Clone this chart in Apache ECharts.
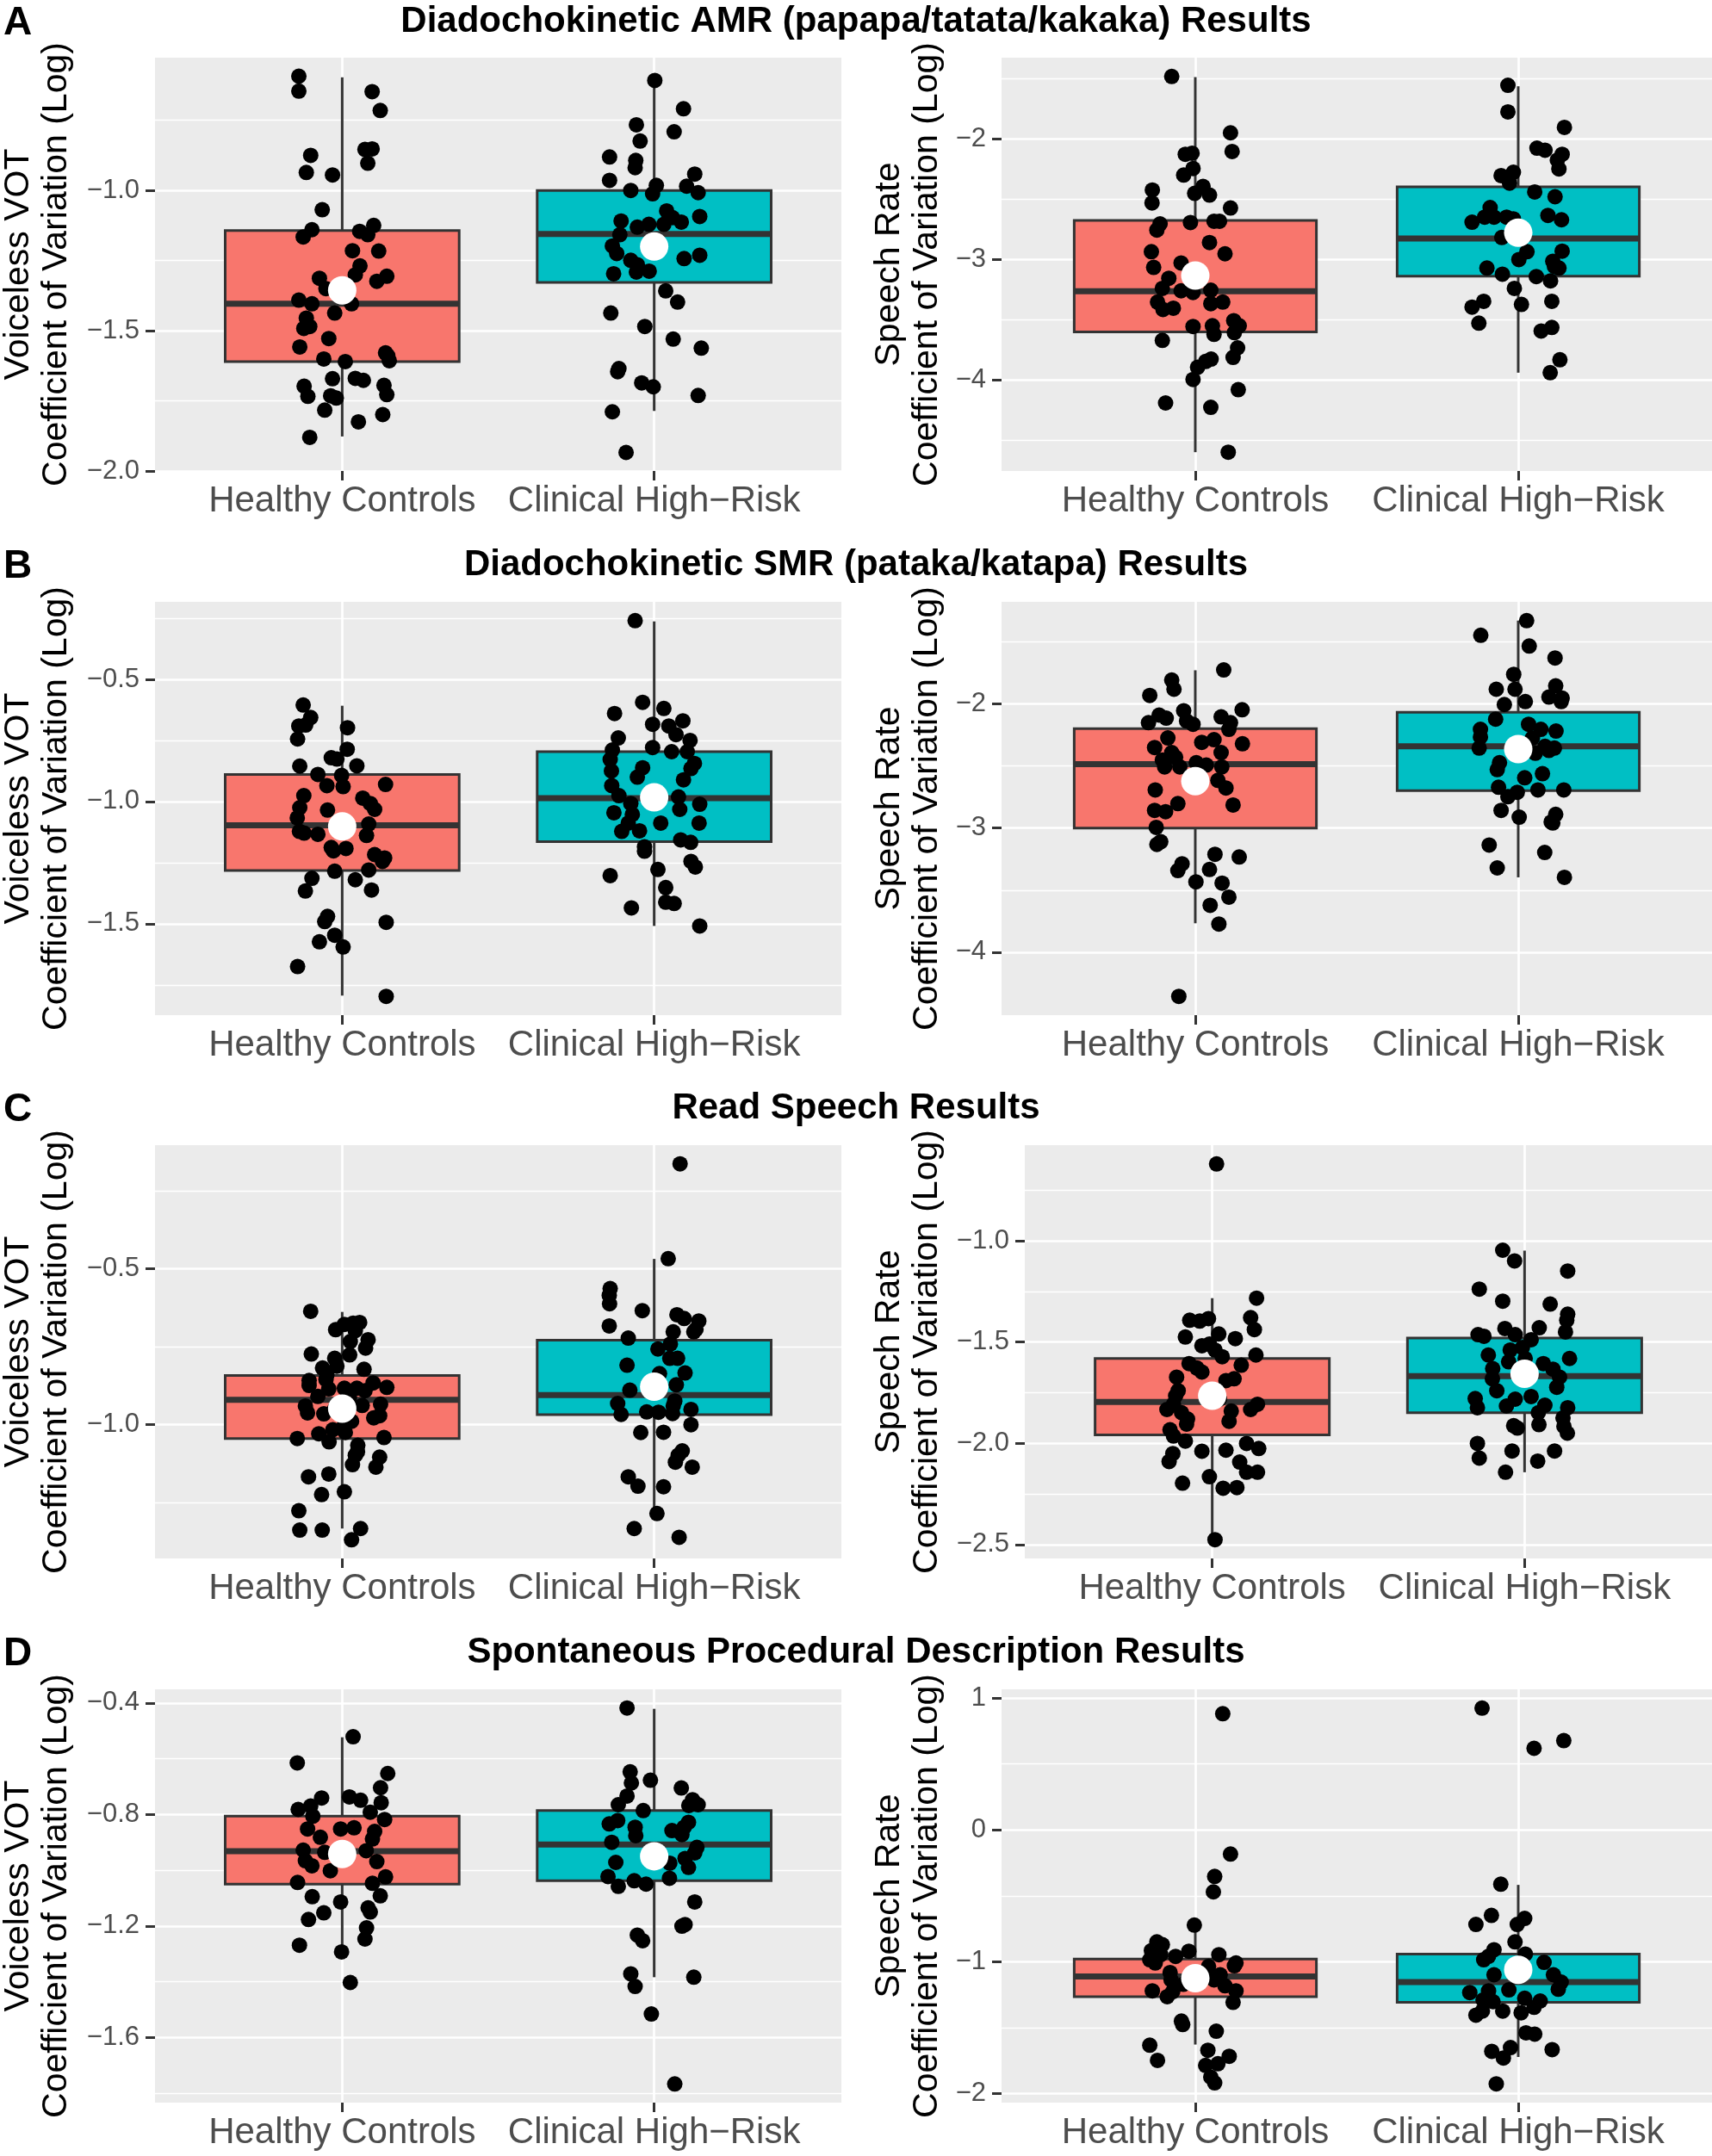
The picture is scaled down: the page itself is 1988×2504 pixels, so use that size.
<!DOCTYPE html>
<html><head><meta charset="utf-8">
<script src="https://cdn.jsdelivr.net/npm/echarts@6/dist/echarts.min.js"></script>
<style>html,body{margin:0;padding:0;background:#fff}#c{width:1988px;height:2504px}</style>
</head><body><div id="c"></div>
<script>
// ---------------- DATA ----------------
const categories = ['Healthy Controls', 'Clinical High\u2212Risk'];
const rowLetters = ['A', 'B', 'C', 'D'];
const rowTitles = [
  'Diadochokinetic AMR (papapa/tatata/kakaka) Results',
  'Diadochokinetic SMR (pataka/katapa) Results',
  'Read Speech Results',
  'Spontaneous Procedural Description Results'
];
const yTitleVot = 'Voiceless VOT\nCoefficient of Variation (Log)';
const yTitleRate = 'Speech Rate\nCoefficient of Variation (Log)';

// A left: AMR Voiceless VOT
const amrVotRange = [-2.0, -0.527];
const amrVotTicks = [-2.0, -1.5, -1.0];
const amrVotMinor = [-1.75, -1.25, -0.75];
const amrVotBoxHC = [-1.877, -1.610, -1.404, -1.143, -0.597];
const amrVotBoxCHR = [-1.786, -1.328, -1.155, -1.000, -0.607];
const amrVotMeans = [-1.356, -1.200];
const amrVotHC = [[0.861,-0.593],[0.861,-0.646],[1.096,-0.648],[1.122,-0.715],[0.899,-0.875],[1.073,-0.854],[1.096,-0.852],[1.082,-0.903],[0.885,-0.936],[0.969,-0.945],[0.936,-1.069],[0.903,-1.140],[0.875,-1.166],[1.056,-1.146],[1.101,-1.125],[1.082,-1.158],[1.033,-1.215],[1.117,-1.216],[1.057,-1.269],[1.042,-1.301],[0.927,-1.313],[0.948,-1.350],[1.143,-1.306],[1.111,-1.324],[0.861,-1.391],[0.903,-1.404],[1.030,-1.404],[0.976,-1.437],[0.885,-1.455],[0.877,-1.492],[0.896,-1.485],[0.957,-1.528],[0.864,-1.558],[0.941,-1.601],[1.010,-1.610],[1.139,-1.579],[1.151,-1.607],[1.146,-1.589],[0.969,-1.671],[1.042,-1.670],[1.068,-1.677],[0.878,-1.698],[0.890,-1.734],[0.963,-1.732],[0.981,-1.740],[1.134,-1.695],[1.143,-1.728],[0.944,-1.783],[1.130,-1.799],[1.052,-1.825],[0.896,-1.880]];
const amrVotCHR = [[2.002,-0.608],[2.094,-0.709],[1.943,-0.766],[2.064,-0.791],[1.955,-0.824],[1.857,-0.881],[1.941,-0.893],[1.939,-0.919],[2.130,-0.942],[1.857,-0.964],[1.925,-1.000],[2.007,-0.982],[1.995,-1.012],[2.104,-0.985],[2.141,-1.008],[2.040,-1.073],[1.894,-1.109],[2.059,-1.097],[2.087,-1.113],[2.146,-1.093],[1.946,-1.131],[1.983,-1.121],[2.031,-1.121],[1.890,-1.158],[1.866,-1.198],[1.880,-1.225],[1.925,-1.249],[1.946,-1.265],[1.984,-1.288],[2.096,-1.243],[2.146,-1.231],[1.870,-1.297],[1.943,-1.291],[2.037,-1.358],[2.075,-1.398],[1.861,-1.437],[1.970,-1.485],[2.061,-1.530],[2.151,-1.562],[1.887,-1.635],[1.883,-1.646],[1.960,-1.686],[1.997,-1.700],[2.141,-1.731],[1.866,-1.789],[1.910,-1.934]];

// A right: AMR Speech Rate
const amrRateRange = [-4.753, -1.326];
const amrRateTicks = [-4, -3, -2];
const amrRateMinor = [-4.5, -3.5, -2.5, -1.5];
const amrRateBoxHC = [-4.597, -3.600, -3.262, -2.676, -1.487];
const amrRateBoxCHR = [-3.938, -3.138, -2.825, -2.397, -1.563];
const amrRateMeans = [-3.132, -2.777];
const amrRateHC = [[0.927,-1.482],[1.109,-1.949],[1.114,-2.104],[0.969,-2.127],[0.990,-2.118],[0.993,-2.245],[0.964,-2.299],[0.867,-2.423],[0.866,-2.530],[1.024,-2.394],[0.998,-2.451],[1.044,-2.465],[1.109,-2.572],[1.058,-2.682],[1.075,-2.682],[0.985,-2.693],[0.891,-2.704],[0.881,-2.755],[1.044,-2.859],[1.092,-2.952],[0.864,-2.935],[0.871,-3.065],[0.956,-3.028],[0.918,-3.155],[0.898,-3.239],[0.993,-3.273],[0.956,-3.259],[1.048,-3.254],[0.883,-3.352],[0.900,-3.414],[0.932,-3.403],[1.048,-3.366],[1.085,-3.352],[0.993,-3.555],[1.053,-3.549],[1.058,-3.620],[1.119,-3.507],[1.136,-3.549],[1.121,-3.606],[0.898,-3.670],[1.131,-3.732],[1.117,-3.811],[1.049,-3.825],[1.032,-3.845],[1.007,-3.893],[0.993,-3.994],[1.133,-4.079],[0.908,-4.189],[1.048,-4.225],[1.102,-4.597]];
const amrRateCHR = [[1.968,-1.555],[1.968,-1.775],[2.143,-1.904],[2.058,-2.076],[2.083,-2.093],[2.136,-2.127],[2.121,-2.175],[2.126,-2.248],[1.985,-2.276],[1.947,-2.304],[1.973,-2.366],[2.051,-2.439],[2.114,-2.479],[1.913,-2.569],[1.896,-2.648],[1.857,-2.690],[1.925,-2.648],[1.964,-2.648],[1.985,-2.662],[2.092,-2.634],[2.134,-2.670],[1.949,-2.817],[2.027,-2.935],[2.136,-2.930],[2.002,-3.000],[1.903,-3.070],[1.951,-3.121],[2.056,-3.141],[2.100,-3.177],[2.112,-3.056],[2.126,-3.070],[2.107,-3.014],[1.988,-3.239],[1.893,-3.346],[1.857,-3.394],[2.010,-3.372],[2.104,-3.346],[1.878,-3.527],[2.071,-3.592],[2.104,-3.563],[2.129,-3.831],[2.099,-3.938]];

// B left: SMR Voiceless VOT
const smrVotRange = [-1.874, -0.183];
const smrVotTicks = [-1.5, -1.0, -0.5];
const smrVotMinor = [-1.75, -1.25, -0.75, -0.25];
const smrVotBoxHC = [-1.794, -1.282, -1.097, -0.889, -0.608];
const smrVotBoxCHR = [-1.509, -1.164, -0.986, -0.796, -0.263];
const smrVotMeans = [-1.102, -0.983];
const smrVotHC = [[0.875,-0.605],[0.899,-0.656],[0.861,-0.691],[0.883,-0.687],[1.017,-0.698],[0.857,-0.744],[1.016,-0.786],[0.965,-0.821],[0.983,-0.826],[0.864,-0.855],[1.047,-0.854],[0.922,-0.889],[0.998,-0.893],[0.951,-0.935],[1.003,-0.939],[1.139,-0.930],[0.877,-0.976],[1.066,-0.986],[0.864,-1.025],[0.953,-1.035],[1.090,-1.008],[1.104,-1.032],[0.856,-1.067],[1.085,-1.092],[0.863,-1.122],[0.878,-1.129],[0.922,-1.134],[1.078,-1.139],[0.965,-1.188],[1.012,-1.192],[0.972,-1.202],[1.104,-1.217],[1.136,-1.231],[1.129,-1.245],[0.976,-1.285],[1.085,-1.280],[0.903,-1.314],[1.042,-1.320],[0.882,-1.366],[1.094,-1.362],[0.953,-1.470],[0.944,-1.491],[0.976,-1.547],[0.927,-1.574],[1.003,-1.595],[1.141,-1.494],[0.857,-1.675],[1.141,-1.797]];
const smrVotCHR = [[1.939,-0.260],[1.963,-0.594],[2.031,-0.619],[1.873,-0.640],[1.995,-0.684],[2.092,-0.670],[2.047,-0.691],[2.070,-0.726],[1.885,-0.740],[2.115,-0.750],[1.866,-0.789],[1.995,-0.779],[2.056,-0.796],[2.106,-0.796],[1.859,-0.828],[2.129,-0.844],[1.863,-0.875],[2.118,-0.865],[1.963,-0.862],[1.946,-0.900],[2.094,-0.911],[1.864,-0.935],[1.887,-0.976],[2.078,-0.981],[1.925,-1.008],[2.146,-1.011],[1.871,-1.046],[1.930,-1.053],[2.082,-1.032],[2.021,-1.088],[2.144,-1.088],[1.917,-1.088],[1.896,-1.122],[1.953,-1.120],[2.085,-1.157],[2.117,-1.167],[1.969,-1.185],[1.969,-1.203],[2.118,-1.245],[2.132,-1.268],[1.859,-1.303],[2.012,-1.278],[2.037,-1.352],[2.037,-1.412],[2.064,-1.417],[1.927,-1.435],[2.146,-1.509]];

// B right: SMR Speech Rate
const smrRateRange = [-4.507, -1.178];
const smrRateTicks = [-4, -3, -2];
const smrRateMinor = [-3.5, -2.5, -1.5];
const smrRateBoxHC = [-3.767, -3.000, -2.485, -2.200, -1.729];
const smrRateBoxCHR = [-3.397, -2.699, -2.342, -2.068, -1.329];
const smrRateMeans = [-2.622, -2.364];
const smrRateHC = [[1.088,-1.726],[0.927,-1.808],[0.934,-1.882],[0.859,-1.932],[0.964,-2.055],[1.145,-2.047],[0.888,-2.090],[0.910,-2.115],[1.080,-2.104],[0.855,-2.151],[0.973,-2.137],[0.993,-2.164],[1.109,-2.151],[1.104,-2.205],[0.915,-2.274],[1.020,-2.310],[1.058,-2.288],[0.874,-2.351],[1.146,-2.321],[1.080,-2.392],[0.927,-2.392],[0.898,-2.452],[0.939,-2.430],[1.003,-2.474],[1.034,-2.493],[0.905,-2.507],[0.952,-2.507],[1.082,-2.507],[1.070,-2.616],[1.095,-2.677],[0.876,-2.693],[0.946,-2.803],[1.117,-2.814],[0.874,-2.858],[0.908,-2.868],[0.879,-2.995],[0.893,-3.110],[0.881,-3.132],[1.061,-3.211],[1.136,-3.233],[0.959,-3.288],[0.946,-3.342],[1.044,-3.334],[1.002,-3.433],[1.083,-3.444],[1.104,-3.556],[1.046,-3.622],[1.073,-3.773],[0.949,-4.356]];
const smrRateCHR = [[2.026,-1.329],[1.884,-1.447],[2.034,-1.534],[2.114,-1.630],[1.986,-1.762],[1.932,-1.882],[1.990,-1.882],[2.116,-1.855],[2.095,-1.945],[2.136,-1.953],[2.022,-1.981],[1.957,-2.005],[2.133,-1.981],[1.930,-2.123],[2.032,-2.164],[1.883,-2.205],[2.070,-2.205],[2.117,-2.219],[1.883,-2.266],[2.044,-2.274],[1.879,-2.356],[2.083,-2.342],[2.112,-2.356],[2.053,-2.397],[2.095,-2.375],[1.942,-2.474],[1.935,-2.529],[2.075,-2.562],[2.020,-2.595],[1.939,-2.671],[1.997,-2.712],[2.061,-2.693],[2.141,-2.693],[1.968,-2.748],[1.947,-2.858],[2.003,-2.912],[2.116,-2.890],[2.102,-2.951],[2.107,-2.959],[1.910,-3.137],[2.082,-3.197],[1.935,-3.321],[2.143,-3.397]];

// C left: Read Speech Voiceless VOT
const readVotRange = [-1.429, -0.103];
const readVotTicks = [-1.0, -0.5];
const readVotMinor = [-1.25, -0.75, -0.25];
const readVotBoxHC = [-1.333, -1.044, -0.920, -0.842, -0.638];
const readVotBoxCHR = [-1.287, -0.968, -0.905, -0.729, -0.468];
const readVotMeans = [-0.948, -0.878];
const readVotHC = [[0.899,-0.636],[0.979,-0.695],[1.007,-0.678],[1.035,-0.674],[1.056,-0.672],[1.042,-0.698],[1.026,-0.733],[1.083,-0.727],[1.075,-0.754],[0.901,-0.773],[1.024,-0.776],[0.976,-0.787],[1.070,-0.822],[0.937,-0.818],[0.983,-0.812],[0.951,-0.840],[0.894,-0.858],[0.948,-0.855],[1.099,-0.866],[1.143,-0.880],[0.894,-0.874],[0.957,-0.885],[1.007,-0.883],[1.047,-0.883],[1.073,-0.891],[0.922,-0.909],[0.882,-0.940],[1.123,-0.934],[0.976,-0.949],[0.889,-0.962],[0.941,-0.965],[1.023,-0.913],[1.064,-0.938],[1.120,-0.971],[1.101,-0.978],[1.030,-0.989],[1.005,-1.005],[0.970,-1.016],[1.010,-1.025],[0.856,-1.044],[0.925,-1.029],[0.958,-1.055],[1.134,-1.041],[1.050,-1.066],[1.049,-1.087],[1.120,-1.104],[1.042,-1.098],[1.033,-1.128],[1.108,-1.136],[0.892,-1.167],[0.957,-1.158],[1.007,-1.215],[0.934,-1.224],[0.861,-1.276],[0.864,-1.338],[0.936,-1.338],[1.059,-1.333],[1.030,-1.369]];
const readVotCHR = [[2.083,-0.163],[2.045,-0.467],[1.859,-0.563],[1.856,-0.585],[1.857,-0.612],[1.962,-0.634],[2.073,-0.647],[2.096,-0.659],[2.143,-0.667],[1.856,-0.683],[2.134,-0.694],[2.127,-0.702],[2.061,-0.702],[1.917,-0.722],[2.052,-0.741],[2.012,-0.757],[2.050,-0.787],[2.075,-0.787],[1.913,-0.809],[2.099,-0.834],[2.017,-0.836],[2.071,-0.872],[1.922,-0.889],[1.993,-0.891],[1.883,-0.932],[2.066,-0.924],[1.894,-0.967],[1.976,-0.959],[2.014,-0.960],[2.059,-0.964],[2.118,-0.951],[2.061,-0.940],[2.118,-1.000],[1.957,-1.025],[2.030,-1.024],[2.090,-1.084],[2.077,-1.098],[2.068,-1.120],[2.122,-1.136],[1.917,-1.167],[1.948,-1.197],[2.030,-1.199],[2.009,-1.285],[1.936,-1.333],[2.080,-1.361]];

// C right: Read Speech Rate
const readRateRange = [-2.569, -0.527];
const readRateTicks = [-2.5, -2.0, -1.5, -1.0];
const readRateMinor = [-2.25, -1.75, -1.25, -0.75];
const readRateBoxHC = [-2.476, -1.959, -1.796, -1.581, -1.283];
const readRateBoxCHR = [-2.143, -1.849, -1.668, -1.480, -1.048];
const readRateMeans = [-1.765, -1.656];
const readRateHC = [[1.014,-0.620],[1.142,-1.283],[1.123,-1.379],[1.135,-1.438],[0.928,-1.392],[0.960,-1.396],[0.988,-1.384],[0.914,-1.475],[1.021,-1.460],[1.074,-1.483],[0.991,-1.510],[0.967,-1.518],[1.009,-1.539],[1.140,-1.564],[1.032,-1.572],[0.926,-1.606],[1.093,-1.614],[0.951,-1.628],[0.967,-1.648],[0.886,-1.673],[1.070,-1.681],[1.044,-1.690],[0.891,-1.740],[0.883,-1.765],[1.023,-1.782],[0.876,-1.807],[1.145,-1.807],[1.123,-1.833],[1.061,-1.841],[0.855,-1.833],[0.902,-1.849],[0.921,-1.880],[1.054,-1.891],[0.918,-1.905],[0.865,-1.933],[0.876,-1.964],[0.914,-1.989],[1.110,-2.001],[1.149,-2.026],[0.967,-2.039],[1.044,-2.034],[0.874,-2.051],[0.862,-2.090],[1.088,-2.093],[1.110,-2.143],[1.145,-2.143],[0.991,-2.165],[0.905,-2.197],[1.035,-2.222],[1.079,-2.219],[1.009,-2.476]];
const readRateCHR = [[1.930,-1.046],[1.968,-1.099],[2.138,-1.149],[1.855,-1.238],[1.930,-1.298],[2.082,-1.312],[2.138,-1.362],[2.135,-1.392],[1.937,-1.433],[2.047,-1.429],[2.131,-1.450],[1.851,-1.463],[1.870,-1.471],[1.970,-1.463],[2.021,-1.488],[1.954,-1.539],[1.993,-1.527],[1.884,-1.564],[2.144,-1.581],[1.949,-1.597],[2.002,-1.581],[1.898,-1.631],[2.091,-1.634],[2.060,-1.606],[2.112,-1.673],[1.897,-1.681],[2.103,-1.723],[1.911,-1.740],[1.842,-1.779],[2.021,-1.769],[1.970,-1.782],[2.065,-1.812],[1.849,-1.824],[1.942,-1.816],[2.138,-1.824],[2.044,-1.849],[2.123,-1.875],[1.965,-1.913],[1.977,-1.925],[2.046,-1.908],[2.126,-1.917],[2.137,-1.950],[1.849,-2.001],[1.855,-2.073],[1.960,-2.038],[2.096,-2.038],[2.042,-2.088],[1.939,-2.143]];

// D left: Spontaneous Voiceless VOT
const spVotRange = [-1.834, -0.351];
const spVotTicks = [-1.6, -1.2, -0.8, -0.4];
const spVotMinor = [-1.8, -1.4, -1.0, -0.6];
const spVotBoxHC = [-1.297, -1.050, -0.932, -0.806, -0.523];
const spVotBoxCHR = [-1.384, -1.038, -0.908, -0.786, -0.421];
const spVotMeans = [-0.942, -0.950];
const spVotHC = [[1.035,-0.521],[0.856,-0.615],[1.146,-0.653],[1.123,-0.704],[0.934,-0.741],[1.023,-0.737],[1.059,-0.749],[1.125,-0.758],[0.859,-0.782],[0.899,-0.770],[0.906,-0.806],[1.090,-0.792],[1.136,-0.818],[0.889,-0.852],[1.038,-0.848],[0.995,-0.852],[0.930,-0.882],[1.104,-0.861],[1.097,-0.888],[0.875,-0.928],[1.077,-0.930],[0.944,-0.936],[0.882,-0.966],[0.903,-0.984],[1.111,-0.969],[0.962,-1.002],[1.139,-1.024],[0.857,-1.044],[1.097,-1.047],[0.904,-1.095],[1.122,-1.092],[0.995,-1.114],[1.083,-1.135],[1.090,-1.150],[0.941,-1.153],[0.892,-1.177],[1.078,-1.207],[1.073,-1.247],[0.863,-1.269],[0.998,-1.293],[1.026,-1.403]];
const spVotCHR = [[1.913,-0.418],[1.923,-0.647],[1.927,-0.687],[1.988,-0.677],[2.087,-0.705],[1.913,-0.734],[1.885,-0.765],[2.123,-0.747],[2.141,-0.765],[2.111,-0.768],[1.965,-0.786],[1.883,-0.822],[1.856,-0.834],[1.939,-0.846],[2.110,-0.828],[2.096,-0.846],[2.057,-0.858],[2.089,-0.872],[1.941,-0.876],[1.864,-0.900],[2.137,-0.918],[2.130,-0.938],[1.877,-0.972],[2.099,-0.958],[2.050,-0.975],[2.110,-0.990],[1.852,-1.023],[1.936,-1.038],[1.974,-1.050],[2.049,-1.029],[1.885,-1.058],[2.130,-1.114],[2.099,-1.195],[2.089,-1.201],[1.946,-1.233],[1.963,-1.253],[2.127,-1.384],[1.925,-1.372],[1.939,-1.417],[1.991,-1.516],[2.066,-1.767]];

// D right: Spontaneous Speech Rate
const spRateRange = [-2.067, 1.065];
const spRateTicks = [-2, -1, 0, 1];
const spRateMinor = [-1.5, -0.5, 0.5];
const spRateBoxHC = [-1.627, -1.264, -1.111, -0.979, -0.768];
const spRateBoxCHR = [-1.721, -1.307, -1.154, -0.941, -0.417];
const spRateMeans = [-1.124, -1.060];
const spRateHC = [[1.085,0.880],[1.109,-0.183],[1.060,-0.353],[1.056,-0.470],[0.997,-0.722],[0.881,-0.849],[0.898,-0.870],[0.864,-0.915],[0.893,-0.946],[0.939,-0.959],[0.980,-0.920],[1.073,-0.946],[0.859,-0.984],[0.876,-1.009],[1.126,-1.009],[1.121,-1.030],[0.922,-1.081],[1.041,-1.035],[1.077,-1.098],[0.925,-1.137],[0.963,-1.170],[1.058,-1.137],[1.092,-1.182],[0.867,-1.220],[0.930,-1.226],[1.126,-1.220],[0.913,-1.264],[1.117,-1.307],[0.957,-1.449],[0.961,-1.475],[1.065,-1.526],[0.859,-1.632],[0.883,-1.747],[1.039,-1.670],[1.105,-1.716],[1.032,-1.785],[1.070,-1.772],[1.048,-1.874],[1.060,-1.917]];
const spRateCHR = [[1.888,0.923],[2.141,0.676],[2.049,0.618],[1.946,-0.412],[1.917,-0.648],[2.020,-0.671],[1.869,-0.717],[1.997,-0.717],[1.990,-0.849],[1.925,-0.908],[1.908,-0.958],[2.022,-0.941],[1.893,-0.984],[2.080,-1.004],[1.925,-1.098],[2.109,-1.098],[2.133,-1.154],[2.124,-1.208],[1.850,-1.233],[1.908,-1.220],[1.971,-1.213],[1.891,-1.289],[2.020,-1.276],[1.922,-1.302],[2.068,-1.297],[2.049,-1.345],[1.952,-1.373],[2.009,-1.386],[1.889,-1.373],[1.869,-1.404],[2.024,-1.538],[2.051,-1.548],[1.918,-1.678],[1.976,-1.650],[2.105,-1.665],[1.954,-1.729],[1.932,-1.925]];

// ---------------- PANELS ----------------
const panels = [
  {row:0, side:0, yTitle:yTitleVot, range:amrVotRange, ticks:amrVotTicks, minor:amrVotMinor, dec:1, box:[amrVotBoxHC, amrVotBoxCHR], means:amrVotMeans, hc:amrVotHC, chr:amrVotCHR},
  {row:0, side:1, yTitle:yTitleRate, range:amrRateRange, ticks:amrRateTicks, minor:amrRateMinor, dec:0, box:[amrRateBoxHC, amrRateBoxCHR], means:amrRateMeans, hc:amrRateHC, chr:amrRateCHR},
  {row:1, side:0, yTitle:yTitleVot, range:smrVotRange, ticks:smrVotTicks, minor:smrVotMinor, dec:1, box:[smrVotBoxHC, smrVotBoxCHR], means:smrVotMeans, hc:smrVotHC, chr:smrVotCHR},
  {row:1, side:1, yTitle:yTitleRate, range:smrRateRange, ticks:smrRateTicks, minor:smrRateMinor, dec:0, box:[smrRateBoxHC, smrRateBoxCHR], means:smrRateMeans, hc:smrRateHC, chr:smrRateCHR},
  {row:2, side:0, yTitle:yTitleVot, range:readVotRange, ticks:readVotTicks, minor:readVotMinor, dec:1, box:[readVotBoxHC, readVotBoxCHR], means:readVotMeans, hc:readVotHC, chr:readVotCHR},
  {row:2, side:1, yTitle:yTitleRate, range:readRateRange, ticks:readRateTicks, minor:readRateMinor, dec:1, box:[readRateBoxHC, readRateBoxCHR], means:readRateMeans, hc:readRateHC, chr:readRateCHR, wideLabels:true},
  {row:3, side:0, yTitle:yTitleVot, range:spVotRange, ticks:spVotTicks, minor:spVotMinor, dec:1, box:[spVotBoxHC, spVotBoxCHR], means:spVotMeans, hc:spVotHC, chr:spVotCHR},
  {row:3, side:1, yTitle:yTitleRate, range:spRateRange, ticks:spRateTicks, minor:spRateMinor, dec:0, box:[spRateBoxHC, spRateBoxCHR], means:spRateMeans, hc:spRateHC, chr:spRateCHR}
];

// ---------------- LAYOUT / STYLE ----------------
const FONT = '"Liberation Sans", Arial, Helvetica, sans-serif';
const rowTop = [67, 699, 1330, 1962];
const rowTitleY = [25, 656, 1287, 1919];
const panelH = 480;
const fills = ['#F8766D', '#00BFC4'];
const dark = '#333333';

function fmt(v, dec) {
  const s = Math.abs(v).toFixed(dec);
  return (v < -1e-9 ? '\u2212' : '') + s;
}

function renderBox(params, api) {
  const x = api.value(0);
  const lo = api.value(1), q1 = api.value(2), med = api.value(3), q3 = api.value(4), hi = api.value(5);
  const half = api.size([0.375, 0])[0];
  const pLo = api.coord([x, lo]), pQ1 = api.coord([x, q1]), pM = api.coord([x, med]);
  const pQ3 = api.coord([x, q3]), pHi = api.coord([x, hi]);
  const fill = fills[params.dataIndex];
  return {
    type: 'group',
    children: [
      {type: 'line', shape: {x1: pLo[0], y1: pLo[1], x2: pQ1[0], y2: pQ1[1]}, style: {stroke: dark, lineWidth: 3}},
      {type: 'line', shape: {x1: pQ3[0], y1: pQ3[1], x2: pHi[0], y2: pHi[1]}, style: {stroke: dark, lineWidth: 3}},
      {type: 'rect', shape: {x: pM[0] - half, y: pQ3[1], width: 2 * half, height: pQ1[1] - pQ3[1]}, style: {fill: fill, stroke: dark, lineWidth: 3}},
      {type: 'line', shape: {x1: pM[0] - half, y1: pM[1], x2: pM[0] + half, y2: pM[1]}, style: {stroke: dark, lineWidth: 7}}
    ]
  };
}

const grid = [], xAxis = [], yAxis = [], series = [], graphic = [];

panels.forEach((p, i) => {
  const left = p.side === 0 ? 180 : (p.wideLabels ? 1190 : 1163);
  const right = p.side === 0 ? 977 : 1988;
  const top = rowTop[p.row];
  grid.push({left: left, top: top, width: right - left, height: panelH, show: true, backgroundColor: '#EBEBEB', borderWidth: 0});

  xAxis.push({
    type: 'value', gridIndex: i, min: 0.4, max: 2.6, position: 'bottom',
    axisLine: {show: false, onZero: false},
    axisTick: {show: true, customValues: [1, 2], length: 11, lineStyle: {color: dark, width: 3}},
    axisLabel: {show: true, customValues: [1, 2], margin: 14, color: '#4D4D4D', fontSize: 42, fontFamily: FONT,
      formatter: v => categories[Math.round(v) - 1] || ''},
    splitLine: {show: true, lineStyle: {color: '#FFFFFF', width: 2.7}}
  });

  yAxis.push({
    type: 'value', gridIndex: i, min: p.range[0], max: p.range[1],
    axisLine: {show: false, onZero: false},
    axisTick: {show: true, customValues: p.ticks, length: 11, lineStyle: {color: dark, width: 3}},
    axisLabel: {show: true, customValues: p.ticks, margin: 18, color: '#4D4D4D', fontSize: 31, fontFamily: FONT,
      formatter: v => fmt(v, p.dec)},
    splitLine: {show: true, lineStyle: {color: '#FFFFFF', width: 2.7}}
  });
  yAxis.push({
    type: 'value', gridIndex: i, min: p.range[0], max: p.range[1], position: 'left',
    axisLine: {show: false, onZero: false},
    axisTick: {show: false, customValues: p.minor},
    axisLabel: {show: false, customValues: p.minor},
    splitLine: {show: true, lineStyle: {color: '#FFFFFF', width: 1.3}}
  });

  const yIdx = 2 * i;
  series.push({
    type: 'custom', xAxisIndex: i, yAxisIndex: yIdx, renderItem: renderBox, silent: true, z: 2,
    encode: {x: 0, y: [1, 2, 3, 4, 5]},
    data: [[1].concat(p.box[0]), [2].concat(p.box[1])]
  });
  series.push({
    type: 'scatter', xAxisIndex: i, yAxisIndex: yIdx, data: p.hc, symbolSize: 18, silent: true, z: 3,
    itemStyle: {color: '#000000', opacity: 1}
  });
  series.push({
    type: 'scatter', xAxisIndex: i, yAxisIndex: yIdx, data: p.chr, symbolSize: 18, silent: true, z: 3,
    itemStyle: {color: '#000000', opacity: 1}
  });
  series.push({
    type: 'scatter', xAxisIndex: i, yAxisIndex: yIdx, data: [[1, p.means[0]], [2, p.means[1]]], symbolSize: 33, silent: true, z: 4,
    itemStyle: {color: '#FFFFFF', opacity: 1}
  });

  // y axis title
  graphic.push({
    type: 'text', x: p.side === 0 ? 44 : 1055, y: top + panelH / 2, rotation: Math.PI / 2, silent: true,
    style: {text: p.yTitle, fill: '#000000', font: '41px ' + FONT, lineHeight: 44, textAlign: 'center', textVerticalAlign: 'middle'}
  });
});

rowTitles.forEach((t, r) => {
  graphic.push({
    type: 'text', x: 994, y: rowTitleY[r], silent: true,
    style: {text: t, fill: '#000000', font: 'bold 42px ' + FONT, textAlign: 'center', textVerticalAlign: 'middle'}
  });
  graphic.push({
    type: 'text', x: 4, y: rowTitleY[r] + 2, silent: true,
    style: {text: rowLetters[r], fill: '#000000', font: 'bold 46px ' + FONT, textAlign: 'left', textVerticalAlign: 'middle'}
  });
});

const chart = echarts.init(document.getElementById('c'), null, {renderer: 'canvas', width: 1988, height: 2504});
chart.setOption({
  animation: false,
  backgroundColor: '#FFFFFF',
  grid: grid, xAxis: xAxis, yAxis: yAxis, series: series, graphic: graphic
});
</script>
</body></html>
